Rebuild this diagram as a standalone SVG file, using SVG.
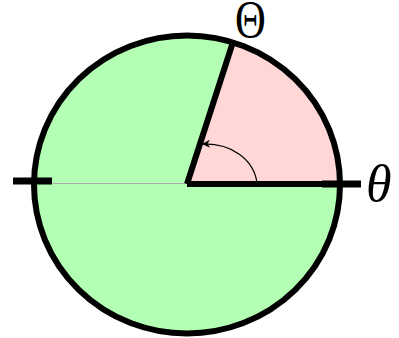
<svg xmlns="http://www.w3.org/2000/svg" width="399" height="338" viewBox="0 0 399 338">
<defs>
<style>
.lbl{font-family:"Liberation Serif","DejaVu Serif",serif;fill:#000}
.thick{stroke:#000;stroke-width:6;fill:none}
</style>
<marker id="ah" viewBox="0 0 10 10" refX="10" refY="5" markerWidth="10" markerHeight="8" markerUnits="userSpaceOnUse" orient="auto">
<path d="M0,0 L10,5 L0,10 L3,5 Z" fill="#000"/>
</marker>
</defs>
<g id="disk">
<ellipse cx="187" cy="184.5" rx="153" ry="149" fill="#b3ffb3"/>
</g>
<g id="sector">
<path d="M187,184 L340,184 A153,149 0 0,0 233,42 Z" fill="#ffd7d7"/>
</g>
<g id="outline">
<ellipse cx="187" cy="184.5" rx="153" ry="149" class="thick"/>
</g>
<g id="connectors">
<line x1="53" y1="183.5" x2="187" y2="183.5" stroke="#aaa" stroke-width="1"/>
<path d="M187,184 L340,184" class="thick"/>
<path d="M233,42 L187,184" class="thick" stroke-linejoin="miter"/>
<line x1="13" y1="181" x2="52" y2="181" stroke="#000" stroke-width="7"/>
<line x1="322" y1="184" x2="361" y2="184" stroke="#000" stroke-width="7"/>
<path d="M257,183 C254,160 232,143 202,144" fill="none" stroke="#000" stroke-width="1.2" marker-end="url(#ah)"/>
</g>
<g id="labels">
<text class="lbl" font-size="52" text-anchor="middle" transform="translate(250.5,37) scale(0.82,1)">Θ</text>
<text class="lbl" x="366" y="201" font-size="52" font-style="italic">θ</text>
</g>
</svg>
